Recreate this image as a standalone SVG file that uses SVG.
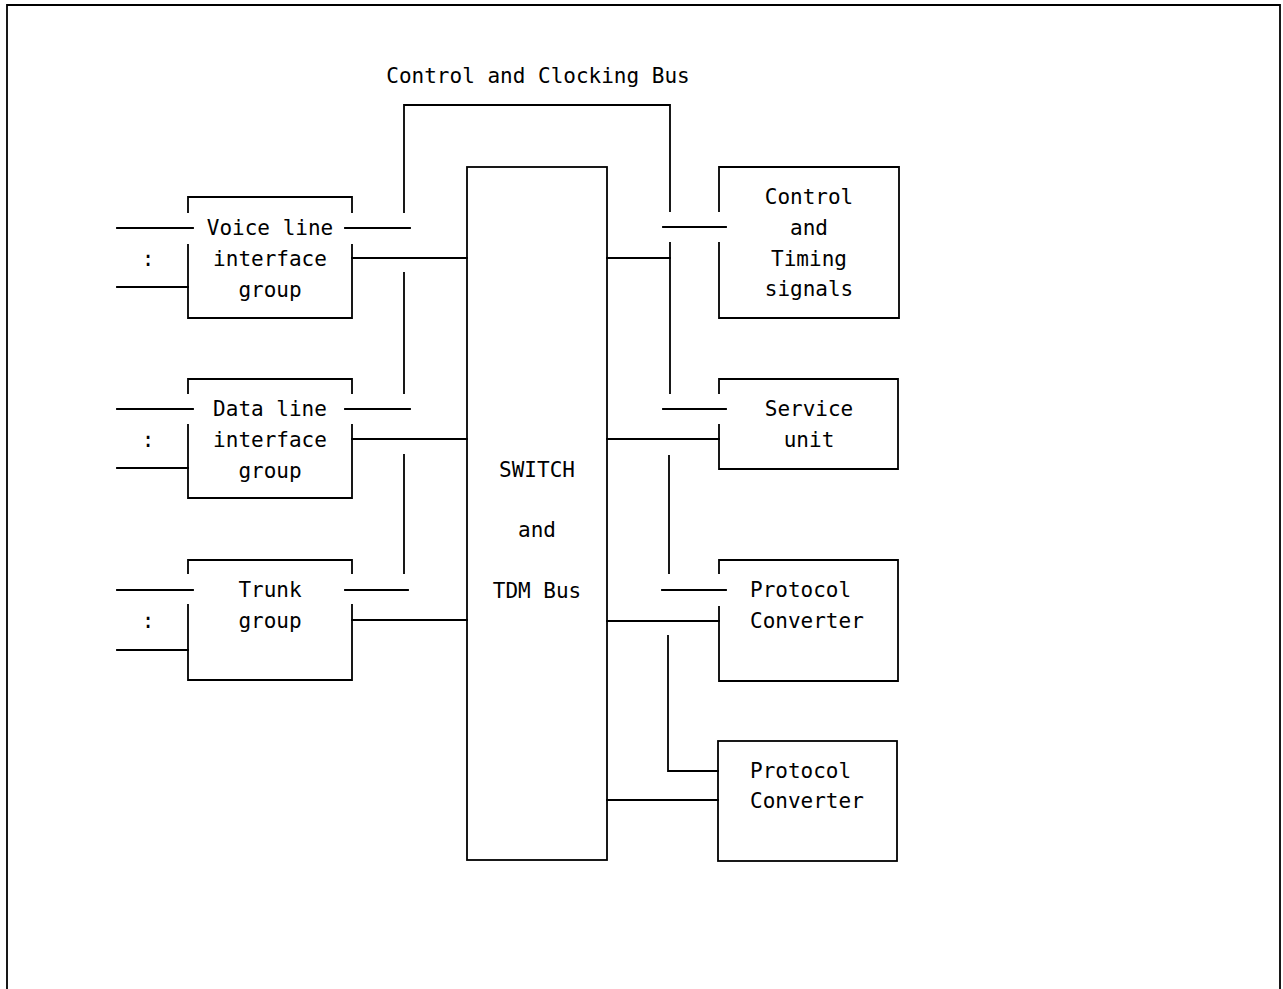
<svg xmlns="http://www.w3.org/2000/svg" width="1283" height="989" viewBox="0 0 1283 989">
<style>
.l{fill:none;stroke:#000;stroke-width:1.8;stroke-linecap:square}
.t{font-family:"DejaVu Sans Mono","Liberation Mono",monospace;font-size:21px;fill:#000}
.c{text-anchor:middle}
</style>
<rect width="1283" height="989" fill="#fff"/>
<path class="l" d="M7,989 V5 H1280 V989"/>
<text class="t c" x="538" y="83">Control and Clocking Bus</text>

<g id="voice">
<path class="l" d="M188,212 V197 H352 V212 M188,245 V318 H352 V245"/>
<text class="t c" x="270" y="235">Voice line</text>
<text class="t c" x="270" y="266">interface</text>
<text class="t c" x="270" y="297">group</text>
</g>
<g id="data">
<path class="l" d="M188,393 V379 H352 V393 M188,425 V498 H352 V425"/>
<text class="t c" x="270" y="416">Data line</text>
<text class="t c" x="270" y="447">interface</text>
<text class="t c" x="270" y="478">group</text>
</g>
<g id="trunk">
<path class="l" d="M188,573 V560 H352 V573 M188,605 V680 H352 V605"/>
<text class="t c" x="270" y="597">Trunk</text>
<text class="t c" x="270" y="628">group</text>
</g>
<g id="switch">
<rect class="l" x="467" y="167" width="140" height="693"/>
<text class="t c" x="537" y="477">SWITCH</text>
<text class="t c" x="537" y="537">and</text>
<text class="t c" x="537" y="598">TDM Bus</text>
</g>
<g id="control">
<path class="l" d="M719,211 V167 H899 V318 H719 V243"/>
<text class="t c" x="809" y="204">Control</text>
<text class="t c" x="809" y="235">and</text>
<text class="t c" x="809" y="266">Timing</text>
<text class="t c" x="809" y="296">signals</text>
</g>
<g id="service">
<path class="l" d="M719,393 V379 H898 V469 H719 V425"/>
<text class="t c" x="809" y="416">Service</text>
<text class="t c" x="809" y="447">unit</text>
</g>
<g id="pc1">
<path class="l" d="M719,573 V560 H898 V681 H719 V607"/>
<text class="t" x="750" y="597">Protocol</text>
<text class="t" x="750" y="628">Converter</text>
</g>
<g id="pc2">
<rect class="l" x="718" y="741" width="179" height="120"/>
<text class="t" x="750" y="778">Protocol</text>
<text class="t" x="750" y="808">Converter</text>
</g>
<g id="colons">
<text class="t c" x="148" y="266">:</text>
<text class="t c" x="148" y="447">:</text>
<text class="t c" x="148" y="628">:</text>
</g>

<g id="connectors">
<path class="l" d="M404,212 V105 H670 V211"/>
<path class="l" d="M404,273 V393 M404,455 V573"/>
<path class="l" d="M670,243 V393 M669,456 V573"/>
<path class="l" d="M668,636 V771 H718"/>
<path class="l" d="M117,228 H193 M345,228 H410 M117,287 H188 M352,258 H467"/>
<path class="l" d="M117,409 H193 M345,409 H410 M117,468 H188 M352,439 H467"/>
<path class="l" d="M117,590 H193 M345,590 H408 M117,650 H188 M352,620 H467"/>
<path class="l" d="M663,227 H726 M607,258 H670"/>
<path class="l" d="M663,409 H726 M607,439 H719"/>
<path class="l" d="M662,590 H726 M607,621 H719"/>
<path class="l" d="M607,800 H718"/>
</g>
</svg>
